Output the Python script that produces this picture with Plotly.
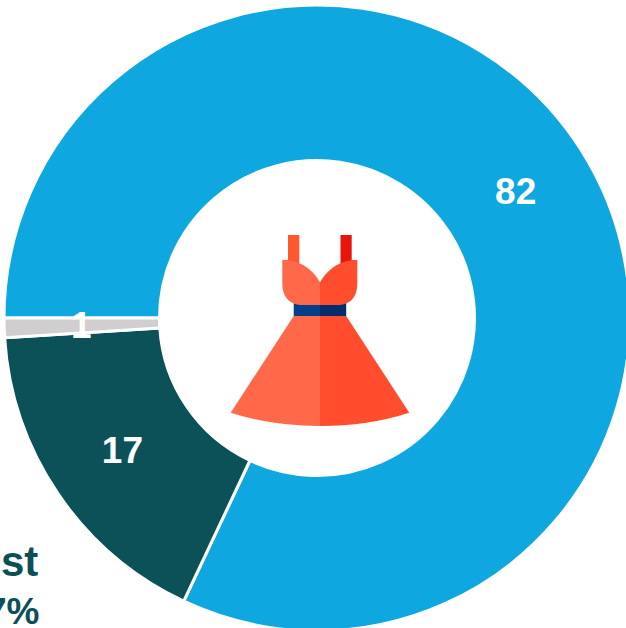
import plotly.graph_objects as go

categories = ["Blue", "Teal", "Grey"]
values = [82, 17, 1]
colors = ["#0FA7E0", "#0D5158", "#D0CECE"]
caption_lines = ["st", "7%"]

W, H = 640, 640
FONT = "Liberation Sans"

def px(x):
    return x / W

def py(y):
    return 1 - y / H

def poly(points, fill):
    parts = []
    for i, p in enumerate(points):
        if len(p) == 2:
            parts.append(("M" if i == 0 else "L") + f"{px(p[0]):.5f},{py(p[1]):.5f}")
        else:
            parts.append(f"Q{px(p[0]):.5f},{py(p[1]):.5f} {px(p[2]):.5f},{py(p[3]):.5f}")
    return dict(type="path", xref="paper", yref="paper", path=" ".join(parts) + " Z",
                fillcolor=fill, line=dict(width=0), layer="above")

shapes = [
    poly([(288, 235), (299.3, 235), (299.3, 265), (288, 265)], "#FF5730"),
    poly([(340.5, 235), (351.7, 235), (351.7, 265), (340.5, 265)], "#E8150D"),
    poly([(293.7, 301), (320, 301), (320, 316), (293.7, 316)], "#053F8C"),
    poly([(320, 301), (346.2, 301), (346.2, 316), (320, 316)], "#032D6B"),
    poly([(282.3, 260), (287.5, 260), (309, 263, 320, 282.3), (320, 305), (300, 305),
          (282.3, 303, 282.3, 283)], "#FF6849"),
    poly([(357.3, 260), (352.5, 260), (331, 263, 320, 282.3), (320, 305), (340, 305),
          (357.3, 303, 357.3, 283)], "#FF4D2D"),
    poly([(293.7, 316), (320, 316), (320, 426), (272, 426, 230.7, 412.7)], "#FF6849"),
    poly([(346.2, 316), (320, 316), (320, 426), (368, 426, 409.3, 412.7)], "#FF4D2D"),
]

# The thin slice's label is placed as an annotation so that it keeps full size.
slice_text = [str(v) if v >= 5 else "" for v in values]
small_labels = [str(v) for v in values if v < 5]

fig = go.Figure(go.Pie(
    labels=categories,
    values=values,
    text=slice_text,
    textinfo="text",
    textposition="inside",
    insidetextorientation="horizontal",
    insidetextfont=dict(family=FONT, size=37, color="white", weight="bold"),
    marker=dict(colors=colors, line=dict(color="white", width=3)),
    hole=157.5 / 313,
    sort=False,
    direction="clockwise",
    rotation=270,
    domain=dict(x=[4 / W, 630 / W], y=[1 - 631 / H, 1 - 5 / H]),
    showlegend=False,
))

def note(text, x, y, size, color, xanchor="right"):
    return dict(text=f"<b>{text}</b>", xref="paper", yref="paper", x=px(x), y=py(y),
                xanchor=xanchor, yanchor="middle", showarrow=False,
                font=dict(family=FONT, size=size, color=color))

annotations = [
    note(caption_lines[0], 40, 561, 42, "#0D4F57"),
    note(caption_lines[1], 41, 611, 37, "#0D4F57"),
    note(small_labels[0], 81, 325, 37, "white", xanchor="center"),
]

fig.update_layout(
    width=W, height=H,
    margin=dict(l=0, r=0, t=0, b=0),
    paper_bgcolor="white",
    shapes=shapes,
    annotations=annotations,
)

fig.write_html(
    "out.html",
    config={"displayModeBar": False},
    post_script="document.documentElement.style.overflow='hidden';document.body.style.overflow='hidden';document.body.style.margin='0';",
)
